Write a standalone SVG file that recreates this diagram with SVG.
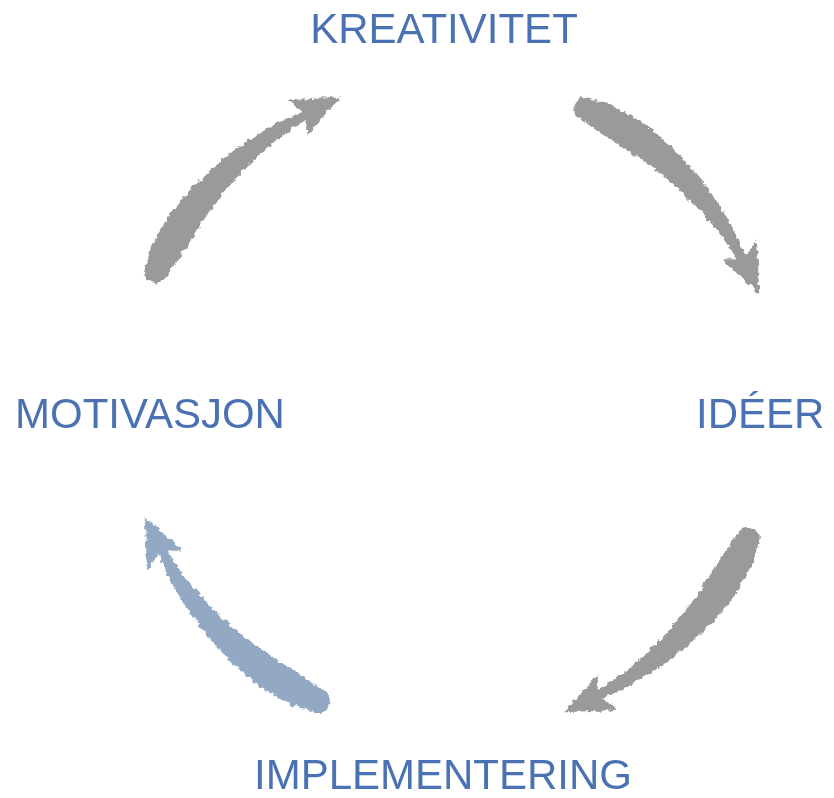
<svg xmlns="http://www.w3.org/2000/svg" xmlns:xlink="http://www.w3.org/1999/xlink" width="834" height="798" viewBox="0 0 834 798">
  <style>
    .label { font-family: "Liberation Sans", Arial, sans-serif; font-size: 42px; fill: #4a72b2; }
    .arrow-gray { fill: #9a9a9a; }
    .arrow-blue { fill: #93a8c2; }
  </style>
  <defs>
    <filter id="rough" x="-20%" y="-20%" width="140%" height="140%">
      <feTurbulence type="fractalNoise" baseFrequency="0.2" numOctaves="2" seed="4" result="noise"/>
      <feDisplacementMap in="SourceGraphic" in2="noise" scale="6" xChannelSelector="R" yChannelSelector="G"/>
    </filter>
    <path id="brush" d="M 136.7 -306.9 L 159.6 -300.2 L 190.7 -282.7 L 217.9 -259.7 L 242.4 -234.1 L 263.6 -206.0 L 281.5 -175.9 L 293.6 -149.6 L 304.9 -165.6 L 307.3 -111.8 L 268.9 -146.0 L 285.6 -145.5 L 269.7 -168.5 L 248.6 -194.3 L 225.1 -217.4 L 199.9 -238.2 L 172.8 -256.2 L 145.5 -273.7 L 127.7 -286.8 C 115.8 -292.1 124.8 -312.2 136.7 -306.9 Z"/>
  </defs>
  <g id="connectors" filter="url(#rough)">
    <use xlink:href="#brush" class="arrow-gray" transform="translate(452 405)"/>
    <use xlink:href="#brush" class="arrow-gray" transform="translate(452 405) rotate(90)"/>
    <use xlink:href="#brush" class="arrow-blue" transform="translate(452 405) rotate(180)"/>
    <use xlink:href="#brush" class="arrow-gray" transform="translate(452 405) rotate(-90)"/>
  </g>
  <g id="node-kreativitet"><text class="label" x="444" y="43" text-anchor="middle">KREATIVITET</text></g>
  <g id="node-ideer"><text class="label" x="696" y="428">IDÉER</text></g>
  <g id="node-implementering"><text class="label" x="254" y="789">IMPLEMENTERING</text></g>
  <g id="node-motivasjon"><text class="label" x="15" y="428">MOTIVASJON</text></g>
</svg>
